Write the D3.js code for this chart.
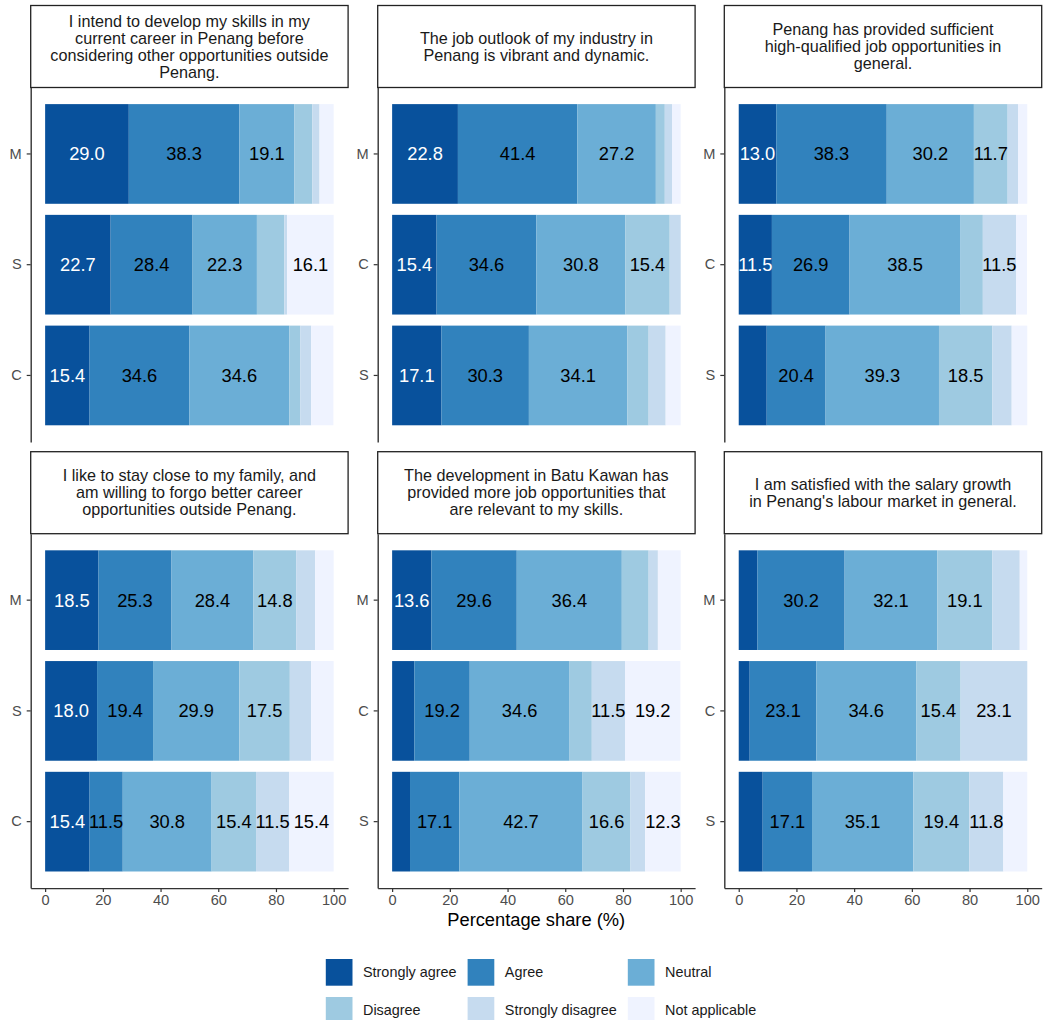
<!DOCTYPE html>
<html>
<head>
<meta charset="utf-8">
<script src="https://cdn.jsdelivr.net/npm/d3@7"></script>
<style>
  html, body { margin: 0; padding: 0; background: #fff; }
  svg { display: block; font-family: "Liberation Sans", Arial, Helvetica, sans-serif; }
</style>
</head>
<body>
<svg id="chart" width="1045" height="1020"></svg>
<script>
// ---------------- DATA ----------------
const levels = ["Strongly agree", "Agree", "Neutral", "Disagree", "Strongly disagree", "Not applicable"];
const levelColors = ["#08519c", "#3182bd", "#6baed6", "#9ecae1", "#c6dbef", "#eff3ff"];
const xTicks = [0, 20, 40, 60, 80, 100];
const xTitle = "Percentage share (%)";

const q1Title = ["I intend to develop my skills in my", "current career in Penang before", "considering other opportunities outside", "Penang."];
const q1Groups = ["M", "S", "C"];
const q1Values = [
  [29.0, 38.3, 19.1, 6.2, 2.5, 4.9],
  [22.7, 28.4, 22.3, 9.5, 1.0, 16.1],
  [15.4, 34.6, 34.6, 3.8, 3.8, 7.7]
];

const q2Title = ["The job outlook of my industry in", "Penang is vibrant and dynamic."];
const q2Groups = ["M", "C", "S"];
const q2Values = [
  [22.8, 41.4, 27.2, 3.1, 2.5, 3.0],
  [15.4, 34.6, 30.8, 15.4, 3.8, 0],
  [17.1, 30.3, 34.1, 7.4, 5.9, 5.2]
];

const q3Title = ["Penang has provided sufficient", "high-qualified job opportunities in", "general."];
const q3Groups = ["M", "C", "S"];
const q3Values = [
  [13.0, 38.3, 30.2, 11.7, 3.6, 3.2],
  [11.5, 26.9, 38.5, 7.7, 11.5, 3.8],
  [9.7, 20.4, 39.3, 18.5, 6.7, 5.4]
];

const q4Title = ["I like to stay close to my family, and", "am willing to forgo better career", "opportunities outside Penang."];
const q4Groups = ["M", "S", "C"];
const q4Values = [
  [18.5, 25.3, 28.4, 14.8, 6.6, 6.4],
  [18.0, 19.4, 29.9, 17.5, 7.4, 7.8],
  [15.4, 11.5, 30.8, 15.4, 11.5, 15.4]
];

const q5Title = ["The development in Batu Kawan has", "provided more job opportunities that", "are relevant to my skills."];
const q5Groups = ["M", "C", "S"];
const q5Values = [
  [13.6, 29.6, 36.4, 9.3, 3.2, 7.9],
  [7.7, 19.2, 34.6, 7.7, 11.5, 19.2],
  [6.2, 17.1, 42.7, 16.6, 5.1, 12.3]
];

const q6Title = ["I am satisfied with the salary growth", "in Penang's labour market in general."];
const q6Groups = ["M", "C", "S"];
const q6Values = [
  [6.5, 30.2, 32.1, 19.1, 9.5, 2.6],
  [3.8, 23.1, 34.6, 15.4, 23.1, 0],
  [8.3, 17.1, 35.1, 19.4, 11.8, 8.3]
];

const panels = [
  { title: q1Title, groups: q1Groups, values: q1Values },
  { title: q2Title, groups: q2Groups, values: q2Values },
  { title: q3Title, groups: q3Groups, values: q3Values },
  { title: q4Title, groups: q4Groups, values: q4Values },
  { title: q5Title, groups: q5Groups, values: q5Values },
  { title: q6Title, groups: q6Groups, values: q6Values }
];

// ---------------- LAYOUT ----------------
const svg = d3.select("#chart");
const colLeft = [30.7, 377.7, 724.3];
const panelW = 317.4;
const rowStripTop = [5.5, 451.7];
const stripH = 82;
const panelH = 354.4;
const color = d3.scaleOrdinal().domain(levels).range(levelColors);
const fmt = d3.format(".1f");
const axisColor = "#333333";
const tickTextColor = "#4d4d4d";

panels.forEach((p, i) => {
  const col = i % 3, row = Math.floor(i / 3);
  const left = colLeft[col];
  const stripTop = rowStripTop[row];
  const top = stripTop + stripH;

  const x = d3.scaleLinear().domain([-5, 105]).range([left, left + panelW]);
  const y = d3.scaleBand().domain(p.groups).range([top, top + panelH])
    .paddingInner(0.1).paddingOuter(0.15);

  const g = svg.append("g");

  // strip
  g.append("rect")
    .attr("x", left).attr("y", stripTop)
    .attr("width", panelW).attr("height", stripH)
    .attr("fill", "#fff").attr("stroke", "#222").attr("stroke-width", 1.3);
  const lh = 17;
  const n = p.title.length;
  const cy = stripTop + stripH / 2;
  g.append("text")
    .attr("text-anchor", "middle")
    .attr("font-size", 16.2)
    .attr("fill", "#1a1a1a")
    .selectAll("tspan").data(p.title).join("tspan")
    .attr("x", left + panelW / 2)
    .attr("y", (d, k) => cy + (k - (n - 1) / 2) * lh)
    .attr("dy", "0.35em")
    .text(d => d);

  // stacked bars
  p.groups.forEach((grp, gi) => {
    const vals = p.values[gi];
    let cum = 0;
    const segs = vals.map((v, li) => {
      const s = { level: levels[li], v: v, x0: cum, x1: cum + v, li: li };
      cum += v;
      return s;
    });
    const bg = g.append("g");
    bg.selectAll("rect").data(segs).join("rect")
      .attr("x", d => x(d.x0))
      .attr("width", d => Math.max(0, x(d.x1) - x(d.x0)))
      .attr("y", y(grp))
      .attr("height", y.bandwidth())
      .attr("fill", d => color(d.level));
    bg.selectAll("text").data(segs.filter(d => d.v >= 10)).join("text")
      .attr("x", d => x((d.x0 + d.x1) / 2))
      .attr("y", y(grp) + y.bandwidth() / 2)
      .attr("dy", "0.35em")
      .attr("text-anchor", "middle")
      .attr("font-size", 18.3)
      .attr("fill", d => d.li === 0 ? "#ffffff" : "#000000")
      .text(d => fmt(d.v));
  });

  // y axis
  const yAxis = g.append("g")
    .attr("transform", `translate(${left},0)`)
    .call(d3.axisLeft(y).tickSize(4).tickSizeOuter(0).tickPadding(5));
  yAxis.select(".domain").attr("stroke", axisColor).attr("stroke-width", 1.4);
  yAxis.selectAll(".tick line").attr("stroke", axisColor).attr("stroke-width", 1.2);
  yAxis.selectAll(".tick text").attr("font-size", 14.6).attr("fill", tickTextColor)
    .attr("font-family", "Liberation Sans, Arial, sans-serif");

  // x axis only on bottom row
  if (row === 1) {
    const xAxis = g.append("g")
      .attr("transform", `translate(0,${top + panelH})`)
      .call(d3.axisBottom(x).tickValues(xTicks).tickSize(4).tickSizeOuter(0).tickPadding(3));
    xAxis.select(".domain").attr("stroke", axisColor).attr("stroke-width", 1.4);
    xAxis.selectAll(".tick line").attr("stroke", axisColor).attr("stroke-width", 1.2);
    xAxis.selectAll(".tick text").attr("font-size", 14.6).attr("fill", tickTextColor)
      .attr("font-family", "Liberation Sans, Arial, sans-serif");
  }
});

// x axis title
svg.append("text")
  .attr("x", (colLeft[0] + colLeft[2] + panelW) / 2)
  .attr("y", 920)
  .attr("dy", "0.35em")
  .attr("text-anchor", "middle")
  .attr("font-size", 18.3)
  .attr("fill", "#000")
  .text(xTitle);

// ---------------- LEGEND ----------------
const keySize = 26.7;
const keyTextGap = 10.5;
const colGap = 11;
const rowsY = [959, 997];
const legendCenter = 541;
const legend = svg.append("g");
const legendCols = [[0, 3], [1, 4], [2, 5]];
// measure text widths
const meas = svg.append("text").attr("font-size", 14.4).attr("visibility", "hidden");
const widths = levels.map(l => { meas.text(l); return meas.node().getComputedTextLength(); });
meas.remove();
const colWidths = legendCols.map(c => keySize + keyTextGap + Math.max(widths[c[0]], widths[c[1]]));
const totalW = d3.sum(colWidths) + colGap * (legendCols.length - 1);
let cx = legendCenter - totalW / 2;
legendCols.forEach((c, ci) => {
  c.forEach((li, ri) => {
    legend.append("rect")
      .attr("x", cx).attr("y", rowsY[ri])
      .attr("width", keySize).attr("height", keySize)
      .attr("fill", levelColors[li]);
    legend.append("text")
      .attr("x", cx + keySize + keyTextGap)
      .attr("y", rowsY[ri] + keySize / 2)
      .attr("dy", "0.35em")
      .attr("font-size", 14.4)
      .attr("fill", "#1a1a1a")
      .text(levels[li]);
  });
  cx += colWidths[ci] + colGap;
});
</script>
</body>
</html>
